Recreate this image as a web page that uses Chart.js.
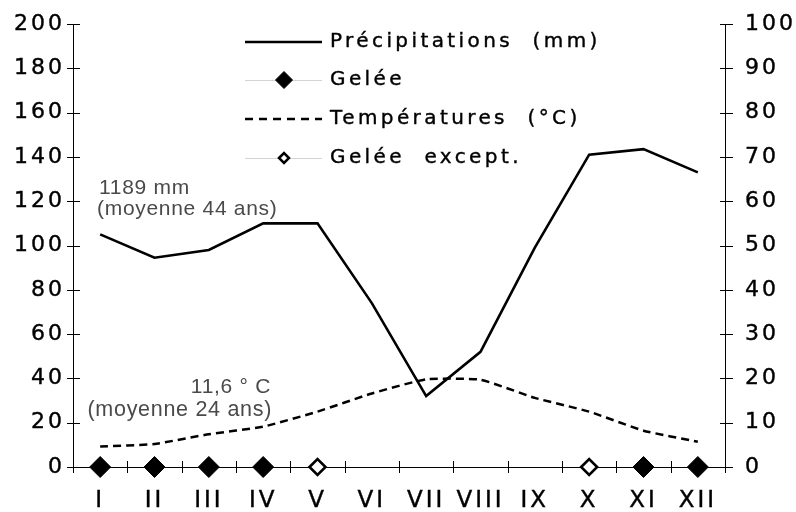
<!DOCTYPE html>
<html><head><meta charset="utf-8">
<script src="https://cdn.jsdelivr.net/npm/chart.js@4"></script>
<style>html,body{margin:0;padding:0;background:#fff}</style>
</head><body>
<canvas id="c" width="796" height="512" style="width:796px;height:512px;display:block"></canvas>
<script>
const months = ['I','II','III','IV','V','VI','VII','VIII','IX','X','XI','XII'];
const precipitation = [105, 94.5, 98, 110, 110, 74, 32, 52, 99, 141, 143.5, 133];
const temperature = [4.6, 5.2, 7.4, 9.1, 12.5, 16.6, 19.8, 19.7, 15.6, 12.5, 8.2, 5.7];
const frost = [0, 0, 0, 0, null, null, null, null, null, null, 0, 0];
const frostExceptional = [null, null, null, null, 0, null, null, null, null, 0, null, null];
const seriesLabels = ['Précipitations  (mm)', 'Gelée', 'Températures  (°C)', 'Gelée  except.'];
const precipAxis = [0, 200, 20];
const tempAxis = [0, 100, 10];
const precipNote = ['1189 mm', '(moyenne 44 ans)'];
const tempNote = ['11,6 ° C', '(moyenne 24 ans)'];

const MAIN_FONT = '"DejaVu Sans", "Open Sans", sans-serif';
const NOTE_FONT = '"Liberation Sans", Arial, sans-serif';

function diamond(ctx, x, y, r, fill, stroke, lw) {
  ctx.beginPath();
  ctx.moveTo(x - r, y); ctx.lineTo(x, y - r); ctx.lineTo(x + r, y); ctx.lineTo(x, y + r);
  ctx.closePath();
  ctx.fillStyle = fill; ctx.fill();
  if (lw) { ctx.lineWidth = lw; ctx.strokeStyle = stroke; ctx.lineJoin = 'miter'; ctx.stroke(); }
}

function noVerticalPadding(s) { s.paddingTop = 0; s.paddingBottom = 0; }

const basePlugin = {
  id: 'base',
  beforeDraw(chart) {
    const c = chart.ctx;
    c.save(); c.fillStyle = '#fff'; c.fillRect(0, 0, chart.width, chart.height); c.restore();
    c.letterSpacing = '3px';
  },
  beforeDatasetsDraw(chart) {
    const c = chart.ctx;
    const xs = chart.scales.x, y = chart.scales.y, y1 = chart.scales.y1;
    c.save();
    c.strokeStyle = '#000'; c.lineWidth = 1;
    c.beginPath();
    for (let i = 0; i < y.ticks.length; i++) {
      const py = Math.round(y.getPixelForTick(i)) + 0.5;
      c.moveTo(y.right - 6, py); c.lineTo(y.right + 7, py);
    }
    for (let i = 0; i < y1.ticks.length; i++) {
      const py = Math.round(y1.getPixelForTick(i)) + 0.5;
      c.moveTo(y1.left - 5, py); c.lineTo(y1.left + 8, py);
    }
    for (let i = 0; i <= months.length; i++) {
      const px = Math.round(xs.getPixelForValue(i - 0.5)) + 0.5;
      c.moveTo(px, xs.top - 6); c.lineTo(px, xs.top + 6);
    }
    c.stroke();
    c.restore();
  },
  afterDraw(chart) {
    const c = chart.ctx;
    const ds = chart.data.datasets;
    c.save();
    c.letterSpacing = '3.4px';
    c.font = '20px ' + MAIN_FONT;
    c.fillStyle = '#000';
    c.strokeStyle = '#000';
    c.textBaseline = 'middle';
    c.textAlign = 'left';
    const rows = [42, 80, 119, 158];
    const x0 = 245, x1 = 322, tx = 330, mx = 284;
    ds.forEach((d, i) => {
      const ry = rows[i];
      c.save();
      if (i === 0 || i === 2) {
        c.strokeStyle = d.borderColor; c.lineWidth = d.borderWidth;
        c.setLineDash(i === 2 ? [8, 6] : []);
        c.beginPath(); c.moveTo(x0, ry); c.lineTo(x1, ry); c.stroke();
      } else {
        c.strokeStyle = '#d4d4d4'; c.lineWidth = 1;
        c.beginPath(); c.moveTo(x0, ry + 0.5); c.lineTo(x1, ry + 0.5); c.stroke();
        if (i === 1) diamond(c, mx, ry, 8.5, '#000', '#000', 1);
        else diamond(c, mx, ry, 5, '#fff', '#000', 2.5);
      }
      c.restore();
      c.lineWidth = 0.4;
      c.strokeText(d.label, tx, ry);
      c.fillText(d.label, tx, ry);
    });
    c.restore();
    c.save();
    c.letterSpacing = '0.7px';
    c.font = '21px ' + NOTE_FONT;
    c.fillStyle = '#4a4a4a';
    c.textBaseline = 'middle';
    c.textAlign = 'left';
    c.fillText(precipNote[0], 99, 188);
    c.fillText(precipNote[1], 97, 209);
    c.textAlign = 'right';
    c.fillText(tempNote[0], 271, 387);
    c.font = '21.5px ' + NOTE_FONT;
    c.fillText(tempNote[1], 272, 410);
    c.restore();
  }
};

const tickFont = (size) => ({ family: MAIN_FONT, size: size });

new Chart(document.getElementById('c'), {
  type: 'line',
  data: {
    labels: months,
    datasets: [
      { label: seriesLabels[0], data: precipitation, yAxisID: 'y', borderColor: '#000', borderWidth: 2.6,
        pointRadius: 0, tension: 0, fill: false, order: 2 },
      { label: seriesLabels[1], data: frost, yAxisID: 'y', showLine: false, pointStyle: 'rectRot',
        pointRadius: 10.5, pointBackgroundColor: '#000', pointBorderColor: '#000', pointBorderWidth: 1,
        borderColor: '#000', clip: false, order: 0 },
      { label: seriesLabels[2], data: temperature, yAxisID: 'y1', borderColor: '#000', borderWidth: 2.5,
        borderDash: [8, 5], pointRadius: 0, tension: 0.15, fill: false, order: 1 },
      { label: seriesLabels[3], data: frostExceptional, yAxisID: 'y', showLine: false, pointStyle: 'rectRot',
        pointRadius: 8, pointBackgroundColor: '#fff', pointBorderColor: '#000', pointBorderWidth: 2.6,
        borderColor: '#000', clip: false, order: 0 }
    ]
  },
  options: {
    responsive: false,
    animation: false,
    devicePixelRatio: 1,
    events: [],
    layout: { padding: { top: 24, left: 0, right: 0, bottom: 0 } },
    plugins: { legend: { display: false }, tooltip: { enabled: false } },
    scales: {
      x: {
        offset: true,
        grid: { display: false, drawTicks: false, offset: true },
        border: { display: true, color: '#000', width: 1 },
        ticks: { color: '#000', font: tickFont(23), padding: 20, maxRotation: 0, autoSkip: false,
          textStrokeColor: '#000', textStrokeWidth: 0.4 },
        afterFit(s) { s.height = 45; }
      },
      y: {
        position: 'left', min: precipAxis[0], max: precipAxis[1],
        grid: { display: false, drawTicks: false },
        border: { display: true, color: '#000', width: 1 },
        ticks: { stepSize: precipAxis[2], color: '#000', font: tickFont(22), padding: 8,
          textStrokeColor: '#000', textStrokeWidth: 0.4 },
        afterFit(s) { s.width = 73; noVerticalPadding(s); }
      },
      y1: {
        position: 'right', min: tempAxis[0], max: tempAxis[1],
        grid: { display: false, drawTicks: false },
        border: { display: true, color: '#000', width: 1 },
        ticks: { stepSize: tempAxis[2], color: '#000', font: tickFont(22), padding: 20,
          textStrokeColor: '#000', textStrokeWidth: 0.4 },
        afterFit(s) { s.width = 71; noVerticalPadding(s); }
      }
    }
  },
  plugins: [basePlugin]
});
</script>
</body></html>
